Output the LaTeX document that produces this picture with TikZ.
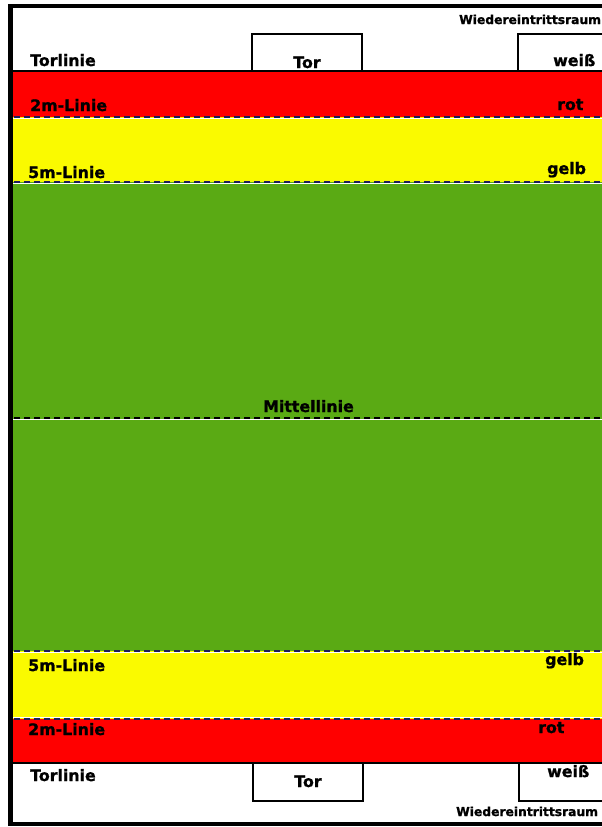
\documentclass[tikz,border=0pt]{standalone}
\usepackage{fontspec}
\setmainfont{DejaVu Sans}[BoldFeatures={FakeBold=1.2}]
\definecolor{bandred}{RGB}{255,0,0}
\definecolor{bandyellow}{RGB}{250,250,0}
\definecolor{bandgreen}{RGB}{90,170,20}
\definecolor{dashnavy}{RGB}{30,30,90}
\begin{document}
\begin{tikzpicture}[x=1pt,y=-1pt,
  lbl/.style={font=\bfseries\fontsize{15.8}{16}\selectfont, inner sep=0pt, anchor=base west},
  lblc/.style={lbl, anchor=base},
  small/.style={font=\bfseries\fontsize{12.3}{12}\selectfont, inner sep=0pt, anchor=base west},
  edge/.style={line width=1.5pt, black},
  box/.style={line width=1.5pt, black},
  whiteline/.style={white, line width=1.4pt},
  dashline/.style={dashnavy, line width=1.8pt, dash pattern=on 6pt off 4pt},
  border/.style={black, line width=4.5pt}]
\useasboundingbox (0,0) rectangle (602,827);
\begin{scope}
\clip (0,0) rectangle (602,827);
\fill[white] (0,0) rectangle (602,827);
% bands
\fill[bandred] (10,71) rectangle (620,117);
\fill[bandyellow] (10,117) rectangle (620,182);
\fill[bandgreen] (10,182) rectangle (620,651);
\fill[bandyellow] (10,651) rectangle (620,719);
\fill[bandred] (10,719) rectangle (620,763);
% goal lines
\draw[edge] (10,71) -- (620,71);
\draw[edge] (10,763) -- (620,763);
% dashed lines
\draw[whiteline] (10,118.5) -- (620,118.5);
\draw[dashline] (14,117) -- (620,117);
\draw[whiteline] (10,183.5) -- (620,183.5);
\draw[dashline] (14,182) -- (620,182);
\draw[whiteline] (10,419.5) -- (620,419.5);
\draw[dashline,black] (14,418) -- (620,418);
\draw[whiteline] (10,652.5) -- (620,652.5);
\draw[dashline] (14,651) -- (620,651);
\draw[whiteline] (10,717.5) -- (620,717.5);
\draw[dashline] (14,719) -- (620,719);
% boxes
\draw[box] (252,71) -- (252,34) -- (362,34) -- (362,71);
\draw[box] (518,71) -- (518,34) -- (620,34);
\draw[box] (253,763) -- (253,801) -- (363,801) -- (363,763);
\draw[box] (519,763) -- (519,801) -- (620,801);
% border
\draw[border] (640,6) -- (10.5,6) -- (10.5,824) -- (640,824);
\end{scope}
% labels top
\node[small] (wtop) at (459,24) {Wiedereintrittsraum};
\node[lbl] (tltop) at (30,66) {Torlinie};
\node[lblc] (tortop) at (307,68) {Tor};
\node[lbl] (wtop2) at (553,66) {weiß};
\node[lbl] (l2top) at (30,111) {2m-Linie};
\node[lbl] (rtop) at (557,110) {rot};
\node[lbl] (l5top) at (28,178) {5m-Linie};
\node[lbl] (gtop) at (547,174) {gelb};
\node[lbl] (mitte) at (263,412) {Mittellinie};
% labels bottom
\node[lbl] (l5bot) at (28,671) {5m-Linie};
\node[lbl] (gbot) at (545,665) {gelb};
\node[lbl] (l2bot) at (28,735) {2m-Linie};
\node[lbl] (rbot) at (538,733) {rot};
\node[lbl] (tlbot) at (30,781) {Torlinie};
\node[lblc] (torbot) at (308,787) {Tor};
\node[lbl] (wbot) at (547,777) {weiß};
\node[small] (wbot2) at (456,816) {Wiedereintrittsraum};
\end{tikzpicture}
\end{document}
